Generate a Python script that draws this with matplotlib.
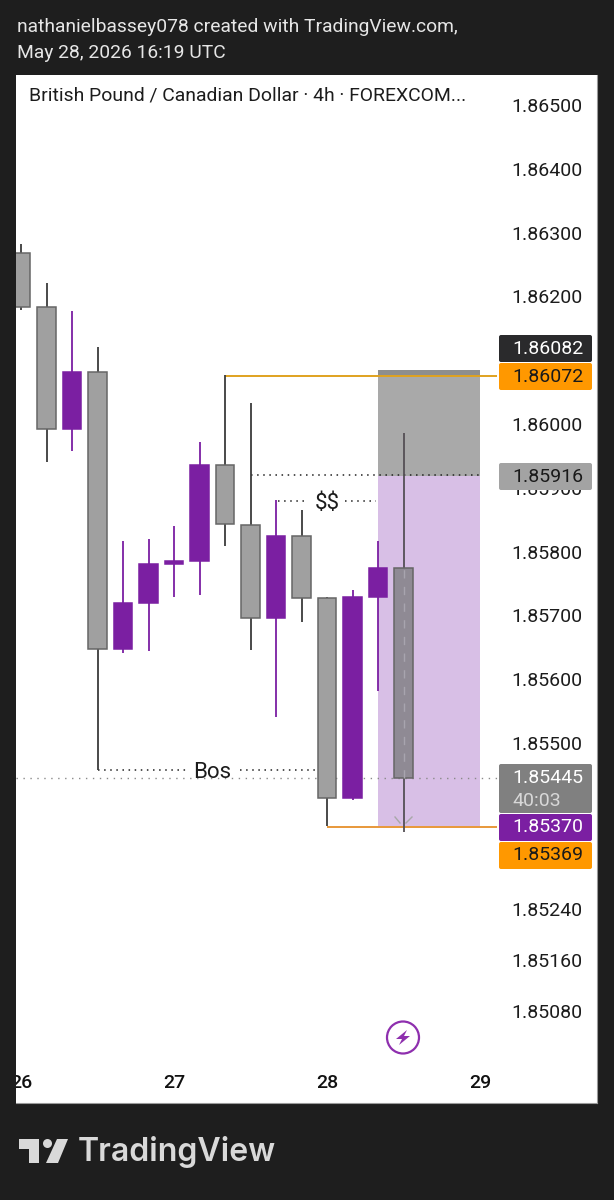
import matplotlib
matplotlib.use("Agg")
import matplotlib.pyplot as plt
from matplotlib.patches import FancyBboxPatch, Rectangle, Polygon, Circle

plt.rcParams['font.family'] = ['Roboto', 'DejaVu Sans']

# ---- data -------------------------------------------------------------
days = [26 + i / 6 for i in range(16)]
opens  = [1.86268, 1.86183, 1.85992, 1.86082, 1.85647, 1.85719, 1.85781, 1.85785,
          1.85843, 1.85842, 1.85696, 1.85824, 1.85727, 1.85414, 1.85729, 1.85774]
closes = [1.86183, 1.85992, 1.86082, 1.85647, 1.85719, 1.85781, 1.85785, 1.85936,
          1.85936, 1.85696, 1.85824, 1.85727, 1.85414, 1.85729, 1.85774, 1.85445]
highs  = [1.86282, 1.86221, 1.86177, 1.86121, 1.85817, 1.85820, 1.85840, 1.85972,
          1.86077, 1.86033, 1.85881, 1.85865, 1.85729, 1.85740, 1.85817, 1.85986]
lows   = [1.86179, 1.85940, 1.85958, 1.85458, 1.85641, 1.85644, 1.85729, 1.85732,
          1.85809, 1.85646, 1.85541, 1.85690, 1.85370, 1.85411, 1.85582, 1.85361]
y_ticks = [1.865, 1.864, 1.863, 1.862, 1.860, 1.859, 1.858, 1.857, 1.856, 1.855,
           1.8524, 1.8516, 1.8508]
x_ticks = [26, 27, 28, 29]
zone_start, zone_end = 28 + 2 / 6, 29
stop_top, entry, target = 1.86085, 1.85919, 1.85370
swing_high, swing_low = 1.86075, 1.85369
last_price = 1.85445
bos_level = 1.85458
liq_level = 1.85920
ss_level = 1.85880
price_labels = [("1.86082", 335, 362, "#2a2a2c", "white", None),
                ("1.86072", 363, 390, "#ff9800", "#1a1a1a", None),
                ("1.85916", 463, 490, "#a3a3a3", "#1a1a1a", None),
                ("1.85445", 764, 813, "#808080", "white", "40:03"),
                ("1.85370", 814, 841, "#7b1fa2", "white", None),
                ("1.85369", 842, 869, "#ff9800", "#1a1a1a", None)]

DARK = "#1e1e1e"
PURPLE = "#7b1fa2"
GRAY = "#a0a0a0"
W, H = 614, 1200
fig = plt.figure(figsize=(6.14, 12), dpi=100, facecolor=DARK)

# chart panel
L, R, T, B = 16, 597, 75, 1103
ax = fig.add_axes([L / W, 1 - B / H, (R - L) / W, (B - T) / H], facecolor="white")
ax.set_xlim(25.9673, 29.7647)
ax.set_ylim(1.84936, 1.86547)
for s in ax.spines.values():
    s.set_visible(False)
ax.spines['right'].set_visible(True)
ax.spines['right'].set_color("#9a9a9a")
ax.spines['bottom'].set_visible(True)
ax.spines['bottom'].set_color("#9a9a9a")

ax.yaxis.tick_right()
ax.set_yticks(y_ticks, [f"{v:.5f}" for v in y_ticks])
ax.tick_params(axis='y', length=0, pad=-62, labelsize=14, labelcolor="#1c1c1c")
for t in ax.get_yticklabels():
    t.set_ha('left')
ax.set_xticks(x_ticks, [str(v) for v in x_ticks])
ax.tick_params(axis='x', length=0, pad=-21, labelsize=14, labelcolor="#111111")
for t in ax.get_xticklabels():
    t.set_fontweight('medium')

# position zone
ax.add_patch(Rectangle((zone_start, entry), zone_end - zone_start, stop_top - entry,
                       fc="#a9a9a9", ec="none", zorder=1))
ax.add_patch(Rectangle((zone_start, swing_high), zone_end - zone_start, stop_top - swing_high,
                       fc="#8e8e8e", ec="none", zorder=1.1))
ax.add_patch(Rectangle((zone_start, target), zone_end - zone_start, entry - target,
                       fc="#d8bfe6", ec="none", zorder=1))

# levels
ax.hlines(last_price, 25.9673, 29.11, color="#8a8a8a", lw=1, ls=(0, (1, 4)), zorder=1.5)
ax.hlines(swing_high, 27 + 2 / 6, 29.11, color="#e0a21f", lw=1.4, zorder=2)
ax.hlines(swing_low, 28, 29.11, color="#e8983a", lw=1.4, zorder=2)
ax.hlines(liq_level, 27.5, 29, color="#222222", lw=1.1, ls=(0, (1, 3)), zorder=2)
ax.hlines(ss_level, 27.68, 27.86, color="#222222", lw=1.1, ls=(0, (1, 3)), zorder=2)
ax.hlines(ss_level, 28.12, 28.32, color="#222222", lw=1.1, ls=(0, (1, 3)), zorder=2)
ax.hlines(bos_level, 26.5, 27.09, color="#222222", lw=1.1, ls=(0, (1, 3)), zorder=2)
ax.hlines(bos_level, 27.43, 27.98, color="#222222", lw=1.1, ls=(0, (1, 3)), zorder=2)
ax.text(27.25, bos_level, "Bos", ha='center', va='center_baseline', fontsize=16, color="#1c1c1c", parse_math=False)
ax.text(28.0, ss_level, "$$", ha='center', va='center_baseline', fontsize=16, color="#1c1c1c", parse_math=False)

# candles
for i, d in enumerate(days):
    purple_bar = i in (2, 4, 5, 6, 7, 10, 13, 14)
    fc = PURPLE if purple_bar else ("#8f8a94" if i == 15 else GRAY)
    ec = PURPLE if purple_bar else "#666666"
    wick = PURPLE if purple_bar else ("#555055" if i == 15 else "#3c3c3c")
    ax.vlines(d, lows[i], highs[i], color=wick, lw=1.3, zorder=3)
    ax.bar(d, abs(closes[i] - opens[i]), bottom=min(opens[i], closes[i]), width=0.118,
           color=fc, edgecolor=ec, linewidth=1.1, zorder=4)
ax.vlines(days[15], closes[15], opens[15], color="#a8a4ae", lw=1, ls=(0, (6, 6)), zorder=5)

# overlay in pixel units
ov = fig.add_axes([0, 0, 1, 1], facecolor="none")
ov.set_xlim(0, W)
ov.set_ylim(H, 0)
ov.axis('off')
ov.add_patch(Rectangle((0, 0), L, H, fc=DARK, ec="none"))

ov.text(17, 27, "nathanielbassey078 created with TradingView.com,", color="#e6e6e6",
        fontsize=13.87, va='center', ha='left')
ov.text(17, 53, "May 28, 2026 16:19 UTC", color="#e6e6e6", fontsize=13.87, va='center', ha='left')
ov.text(29, 96, "British Pound / Canadian Dollar · 4h · FOREXCOM...", color="#1c1c1c",
        fontsize=13.95, va='center', ha='left')

for txt, y0, y1, bg, fg, sub in price_labels:
    ov.add_patch(FancyBboxPatch((500, y0 + 1), 91, y1 - y0 - 2, boxstyle="round,pad=1,rounding_size=2",
                                fc=bg, ec="none", zorder=5))
    yc = (y0 + y1) / 2 if sub is None else y0 + 14
    ov.text(512, yc, txt, color=fg, fontsize=14, va='center', ha='left', zorder=6)
    if sub:
        ov.text(512, y0 + 37, sub, color="#d8d8d8", fontsize=14, va='center', ha='left', zorder=6)

# chevron marker
ov.plot([395, 400], [817, 823], color="#a8a8a8", lw=1, zorder=3)
ov.plot([406, 412], [823, 817], color="#a8a8a8", lw=1, zorder=3)

# bolt icon
ov.add_patch(Circle((403, 1037.5), 16, fc="white", ec="#8e2fae", lw=1.6))
ov.add_patch(Polygon([(407, 1030), (396, 1039), (402, 1039), (399, 1045), (410, 1036), (404, 1036)],
                     closed=True, fc="#8e2fae", ec="none"))

# TradingView logo
LOGO = "#d9d9d9"
ov.add_patch(Polygon([(19, 1139), (39, 1139), (39, 1163), (29, 1163), (29, 1149), (19, 1149)],
                     closed=True, fc=LOGO, ec="none"))
ov.add_patch(Circle((47.5, 1143.5), 4.5, fc=LOGO, ec="none"))
ov.add_patch(Polygon([(57, 1139), (68, 1139), (58, 1163), (46, 1163)], closed=True, fc=LOGO, ec="none"))
ov.text(78, 1152, "TradingView", color=LOGO, fontsize=23.1, fontweight='semibold',
        family=['Inter', 'DejaVu Sans'], va='center', ha='left')

fig.savefig("out.png", dpi=100, facecolor=DARK)
